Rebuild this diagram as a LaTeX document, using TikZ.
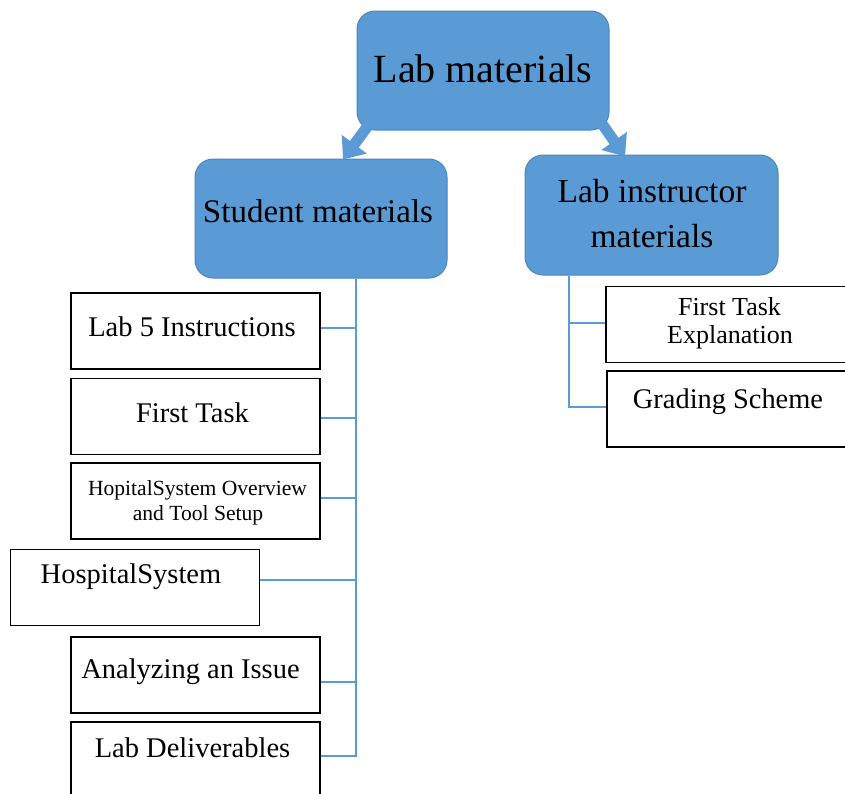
\documentclass[tikz,border=0pt]{standalone}
\usepackage{fontspec}
\setmainfont{Liberation Serif}
\usetikzlibrary{arrows.meta,calc}
\definecolor{boxblue}{HTML}{5B9BD5}
\definecolor{boxedge}{HTML}{4A86BE}
\definecolor{linkblue}{HTML}{5B9BD5}
\begin{document}
\begin{tikzpicture}[x=1pt,y=-1pt,
  bluebox/.style={draw=boxedge, line width=1pt, fill=boxblue, rounded corners=18pt,
    minimum width=252pt, minimum height=119pt, inner sep=0pt},
  wbox/.style={draw=black, line width=1.4pt, fill=white,
    minimum width=249pt, minimum height=76pt, inner sep=0pt},
  txt/.style={anchor=base, inner sep=0pt},
  conn/.style={draw=linkblue, line width=1.8pt},
  bigarrow/.style={draw=boxblue, line width=11pt, -{Triangle[width=30pt,length=19pt]}}]
\useasboundingbox (0,0) rectangle (845,793);

% blue boxes
\node[bluebox] (stu) at (321,218.5) {};
\node[bluebox, minimum width=253pt, minimum height=120pt] (ins) at (651.5,215) {};
\node[bluebox] (top) at (483,70.5) {};

% arrows
\begin{scope}[on background layer/.style={}]
\draw[bigarrow] ([xshift=11pt,yshift=4pt]top.south west) -- ([xshift=22pt,yshift=-1pt]stu.north);
\draw[bigarrow] ([xshift=-7pt,yshift=6pt]top.south east) -- ([xshift=-26.5pt,yshift=-2pt]ins.north);
\end{scope}

% titles
\node[txt, font=\fontsize{40}{48}\selectfont] (ttop) at (483,82) {Lab materials};
\node[txt, font=\fontsize{33}{40}\selectfont] (tstu) at (318,222) {Student materials};
\node[txt, font=\fontsize{33.5}{40}\selectfont] (tins1) at (652,202) {Lab instructor};
\node[txt, font=\fontsize{33.5}{40}\selectfont] (tins2) at (652,247) {materials};

% left boxes
\node[wbox] (L1) at (195.5,331) {};
\node[wbox] (L2) at (195.5,416.5) {};
\node[wbox] (L3) at (195.5,501) {};
\node[wbox] (L4) at (135,587.5) {};
\node[wbox] (L5) at (195.5,675) {};
\node[wbox] (L6) at (195.5,760) {};

\begin{scope}[every node/.style={txt, font=\fontsize{28.5}{34}\selectfont}]
\node (tL1) at (192,336) {Lab 5 Instructions};
\node (tL2) at (192.5,422) {First Task};
\node (tL4) at (131,583) {HospitalSystem};
\node (tL5) at (190.5,678) {Analyzing an Issue};
\node (tL6) at (192.5,757) {Lab Deliverables};
\end{scope}
\node[txt, font=\fontsize{21.6}{26}\selectfont] (tL3a) at (197.5,495) {HopitalSystem Overview};
\node[txt, font=\fontsize{21.6}{26}\selectfont] (tL3b) at (198,520) {and Tool Setup};

% right boxes
\node[wbox] (R1) at (730.5,324.5) {};
\node[wbox] (R2) at (731.5,409) {};
\node[txt, font=\fontsize{26}{31}\selectfont] (tR1a) at (729.5,315) {First Task};
\node[txt, font=\fontsize{26}{31}\selectfont] (tR1b) at (730,343) {Explanation};
\node[txt, font=\fontsize{28.4}{34}\selectfont] (tR2) at (728,408) {Grading Scheme};

% left connectors
\coordinate (ltop) at ([xshift=35pt]stu.south);
\coordinate (k1) at ([yshift=3pt]L1.east);
\coordinate (k2) at ([yshift=-1.5pt]L2.east);
\coordinate (k3) at ([yshift=3pt]L3.east);
\coordinate (k4) at ([yshift=7.5pt]L4.east);
\coordinate (k5) at ([yshift=-7pt]L5.east);
\coordinate (k6) at ([yshift=4pt]L6.east);
\draw[conn] (ltop) -- (k6 -| ltop) -- (k6);
\foreach \k in {k1,k2,k3,k4,k5}{\draw[conn] (\k) -- (\k -| ltop);}

% right connectors
\coordinate (rtop) at ([xshift=-82.5pt]ins.south);
\coordinate (r1) at ([yshift=1.5pt]R1.west);
\coordinate (r2) at ([yshift=2pt]R2.west);
\draw[conn] (rtop) -- (r2 -| rtop) -- (r2);
\draw[conn] (r1) -- (r1 -| rtop);
\end{tikzpicture}
\end{document}
